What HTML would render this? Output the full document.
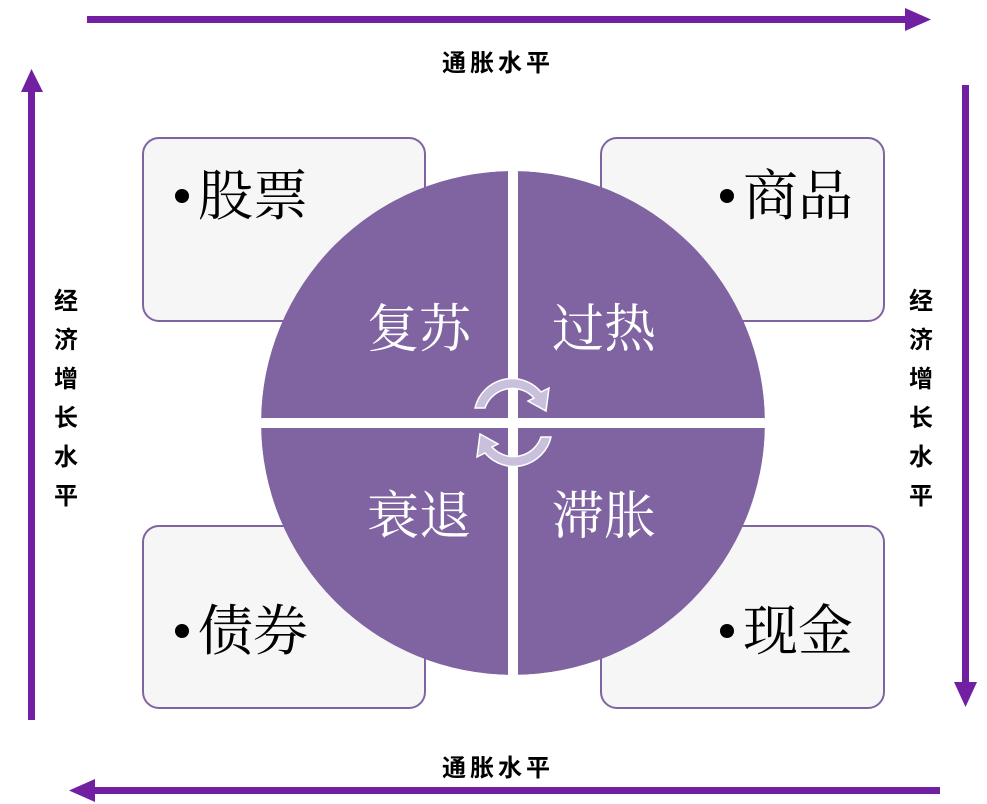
<!DOCTYPE html>
<html><head><meta charset="utf-8"><style>
body{margin:0;background:#fff;width:987px;height:804px;overflow:hidden}
svg{display:block}
</style></head><body>
<svg width="987" height="804" viewBox="0 0 987 804" font-family="'Liberation Serif','Noto Serif CJK SC',serif">
<defs><clipPath id="c"><circle cx="513" cy="423" r="252"/></clipPath></defs>
<rect x="87" y="16" width="822" height="7" fill="#7020a0"/>
<polygon points="905,8 931,19.5 905,31" fill="#7020a0"/>
<rect x="28" y="90" width="7" height="630" fill="#7020a0"/>
<polygon points="21,92 31.5,69 43,92" fill="#7020a0"/>
<rect x="962" y="85" width="7" height="600" fill="#7020a0"/>
<polygon points="954,682 965.5,707 977,682" fill="#7020a0"/>
<rect x="92" y="787" width="848" height="7" fill="#7020a0"/>
<polygon points="95,779 69,790.5 95,802" fill="#7020a0"/>
<g fill="#f6f6f6" stroke="#8064a2" stroke-width="2">
<rect x="143" y="138" width="282" height="183" rx="16"/>
<rect x="601" y="138" width="283" height="183" rx="16"/>
<rect x="143" y="526" width="282" height="182" rx="16"/>
<rect x="601" y="526" width="283" height="182" rx="16"/>
</g>
<g fill="#000">
<circle cx="182" cy="196" r="7"/><circle cx="727" cy="196" r="7"/>
<circle cx="182" cy="631" r="7"/><circle cx="727" cy="631" r="7"/>
</g>
<g font-size="55" fill="#000">
<text x="198" y="215">股票</text>
<text x="743" y="215">商品</text>
<text x="198" y="650">债券</text>
<text x="743" y="650">现金</text>
</g>
<g clip-path="url(#c)">
<circle cx="513" cy="423" r="252" fill="#8064a2"/>
<rect x="508" y="160" width="10" height="530" fill="#fff"/>
<rect x="250" y="418" width="530" height="10" fill="#fff"/>
</g>
<g font-size="52" fill="#fff">
<text x="367" y="347">复苏</text>
<text x="552" y="347">过热</text>
<text x="367" y="534">衰退</text>
<text x="552" y="534">滞胀</text>
</g>
<g fill="#c9c1dc" stroke="#fff" stroke-width="1.5">
<path d="M475,408 A38,38 0 0 1 541,392 L549,388 L546,411 L528,401 L534,398 A29,29 0 0 0 485,408 Z"/>
<path d="M551,437 A38,38 0 0 1 485,453 L477,457 L480,434 L498,444 L492,447 A29,29 0 0 0 541,437 Z"/>
</g>
<g font-family="'Liberation Sans','Noto Sans CJK SC',sans-serif" font-weight="bold" font-size="24" fill="#000">
<text x="498" y="71" text-anchor="middle" letter-spacing="4">通胀水平</text>
<text x="498" y="776" text-anchor="middle" letter-spacing="4">通胀水平</text>
<g text-anchor="middle">
<text x="66" y="309">经</text><text x="66" y="348">济</text><text x="66" y="387">增</text><text x="66" y="426">长</text><text x="66" y="465">水</text><text x="66" y="504">平</text>
<text x="921" y="309">经</text><text x="921" y="348">济</text><text x="921" y="387">增</text><text x="921" y="426">长</text><text x="921" y="465">水</text><text x="921" y="504">平</text>
</g>
</g>
</svg>
</body></html>
